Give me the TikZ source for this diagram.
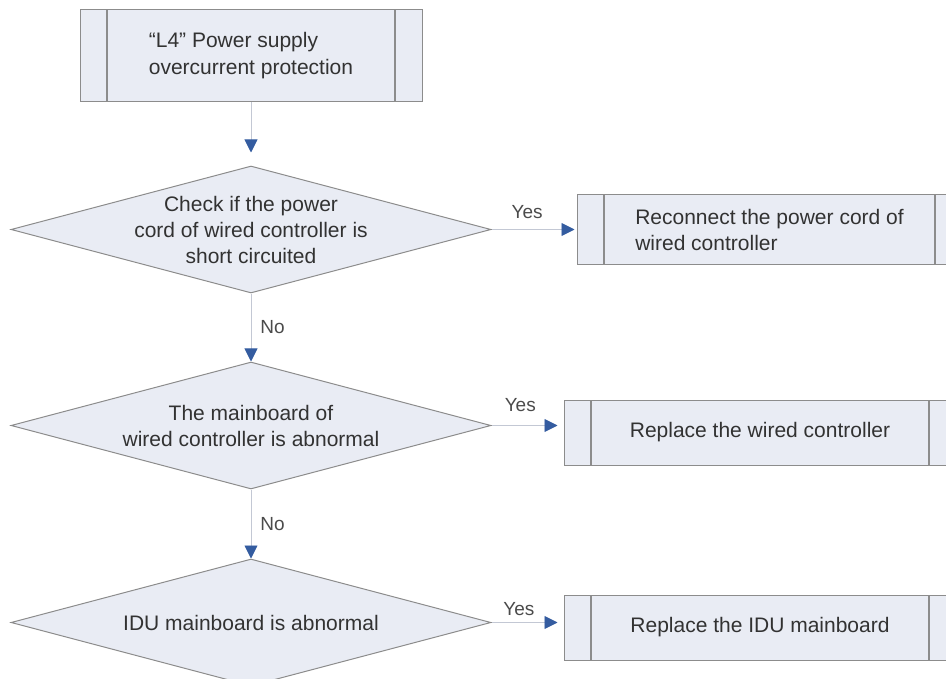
\documentclass[tikz,border=0pt]{standalone}
\usepackage{fontspec}
\setmainfont{Liberation Sans}
\usetikzlibrary{positioning,arrows.meta,shapes.geometric}
\definecolor{boxfill}{RGB}{233,236,244}
\definecolor{edgegray}{RGB}{140,140,140}
\definecolor{linkgray}{RGB}{195,200,212}
\definecolor{tipblue}{RGB}{52,92,160}
\definecolor{inkgray}{RGB}{50,50,50}
\definecolor{lblgray}{RGB}{75,75,75}

\begin{document}
\begin{tikzpicture}[x=1pt,y=1pt,font=\fontsize{21pt}{26pt}\selectfont,
  >={Triangle[length=13pt,width=13pt,color=tipblue]},
  proc/.style={draw=edgegray,line width=1pt,fill=boxfill,text=inkgray,align=left,inner sep=0pt,
    path picture={\draw[edgegray,line width=1.3pt]
      ([xshift=27pt]path picture bounding box.north west) -- ([xshift=27pt]path picture bounding box.south west)
      ([xshift=-27pt]path picture bounding box.north east) -- ([xshift=-27pt]path picture bounding box.south east);}},
  dec/.style={diamond,draw=edgegray,line width=1pt,fill=boxfill,text=inkgray,align=center,
    minimum width=480pt,minimum height=127pt,aspect=3.78,inner xsep=0pt,inner ysep=-12pt},
  link/.style={draw=linkgray,line width=0.9pt},
  lbl/.style={text=lblgray,font=\fontsize{19pt}{22pt}\selectfont,inner sep=3pt}]
  \useasboundingbox (0,0) rectangle (946,-679);
  % main column
  \node[proc,minimum width=342pt,minimum height=92pt,font=\fontsize{21pt}{27pt}\selectfont] (alarm) at (251,-56)
    {“L4” Power supply\\overcurrent protection};
  \node[dec,below=63pt of alarm] (chk1) {Check if the power\\cord of wired controller is\\short circuited};
  \node[dec,below=68pt of chk1] (chk2) {The mainboard of\\wired controller is abnormal};
  \node[dec,below=69pt of chk2] (chk3) {IDU mainboard is abnormal};
  % actions
  \node[proc,minimum width=385pt,minimum height=70pt,right=85pt of chk1] (fix1)
    {Reconnect the power cord of\\wired controller};
  \node[proc,minimum width=392pt,minimum height=65pt,right=72pt of chk2,yshift=-7pt] (fix2)
    {Replace the wired controller};
  \node[proc,minimum width=392pt,minimum height=65pt,right=72pt of chk3,yshift=-5pt] (fix3)
    {Replace the IDU mainboard};
  % connectors
  \draw[link,->,shorten >=13pt] (alarm) -- (chk1);
  \draw[link,->] (chk1) -- node[lbl,right=6pt]{No} (chk2);
  \draw[link,->] (chk2) -- node[lbl,right=6pt]{No} (chk3);
  \draw[link,->,shorten >=2pt] (chk1.east) -- node[lbl,above=7pt,pos=0.42]{Yes} (chk1.east -| fix1.west);
  \draw[link,->,shorten >=6pt] (chk2.east) -- node[lbl,above=10pt,pos=0.4]{Yes} (chk2.east -| fix2.west);
  \draw[link,->,shorten >=6pt] (chk3.east) -- node[lbl,above=3pt,pos=0.38]{Yes} (chk3.east -| fix3.west);
\end{tikzpicture}
\end{document}
